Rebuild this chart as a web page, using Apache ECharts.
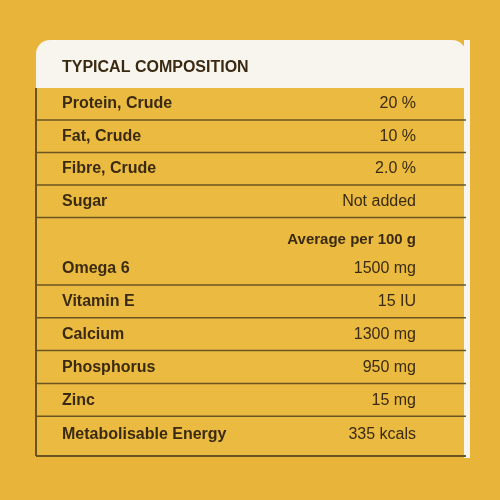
<!DOCTYPE html>
<html>
<head>
<meta charset="utf-8">
<script src="https://cdn.jsdelivr.net/npm/echarts@6/dist/echarts.min.js"></script>
<style>html,body{margin:0;padding:0;background:#e8b53a}</style>
</head>
<body>
<div id="main" style="width:500px;height:500px"></div>
<script>
var title = 'TYPICAL COMPOSITION';
var topNames = ['Protein, Crude', 'Fat, Crude', 'Fibre, Crude', 'Sugar'];
var topValues = ['20 %', '10 %', '2.0 %', 'Not added'];
var subHeader = 'Average per 100 g';
var bottomNames = ['Omega 6', 'Vitamin E', 'Calcium', 'Phosphorus', 'Zinc', 'Metabolisable Energy'];
var bottomValues = ['1500 mg', '15 IU', '1300 mg', '950 mg', '15 mg', '335 kcals'];

var ink = '#3b2a12';
var line = '#6b5422';
var font = '"Liberation Sans", Arial, sans-serif';
var left = 36, right = 466, textL = 62, textR = 416;

var els = [
  { type: 'rect', shape: { x: 0, y: 0, width: 500, height: 500 }, style: { fill: '#e8b53a' } },
  { type: 'rect', shape: { x: left, y: 86, width: right - left, height: 370 }, style: { fill: '#eabb40' } },
  { type: 'rect', shape: { x: left, y: 40, width: right - left, height: 48, r: [14, 14, 0, 0] }, style: { fill: '#f7f5ee' } },
  { type: 'rect', shape: { x: right - 2, y: 40, width: 6, height: 418 }, style: { fill: '#f7f5ee' } },
  { type: 'text', x: textL, y: 68, style: { text: title, font: 'bold 16px ' + font, fill: ink, textVerticalAlign: 'middle' } },
  { type: 'line', shape: { x1: left, y1: 88, x2: left, y2: 456 }, style: { stroke: line, lineWidth: 2 } },
  { type: 'line', shape: { x1: left, y1: 456, x2: right, y2: 456 }, style: { stroke: line, lineWidth: 2 } }
];

function row(name, value, y) {
  els.push({ type: 'text', x: textL, y: y, style: { text: name, font: 'bold 16px ' + font, fill: ink, textVerticalAlign: 'middle' } });
  els.push({ type: 'text', x: textR, y: y, style: { text: value, font: '16px ' + font, fill: ink, textAlign: 'right', textVerticalAlign: 'middle' } });
}
function hline(y) {
  els.push({ type: 'line', shape: { x1: left, y1: y, x2: right, y2: y }, style: { stroke: line, lineWidth: 1.5 } });
}

topNames.forEach(function (n, i) {
  var y = 104 + i * 32.5;
  row(n, topValues[i], y);
  hline(y + 16);
});
els.push({ type: 'text', x: textR, y: 240, style: { text: subHeader, font: 'bold 15px ' + font, fill: ink, textAlign: 'right', textVerticalAlign: 'middle' } });
bottomNames.forEach(function (n, i) {
  var y = 269 + i * 32.8;
  if (i === bottomNames.length - 1) y += 2;
  row(n, bottomValues[i], y);
  if (i < bottomNames.length - 1) hline(y + 16);
});

var myChart = echarts.init(document.getElementById('main'));
myChart.setOption({ animation: false, graphic: { elements: els } });
</script>
</body>
</html>
